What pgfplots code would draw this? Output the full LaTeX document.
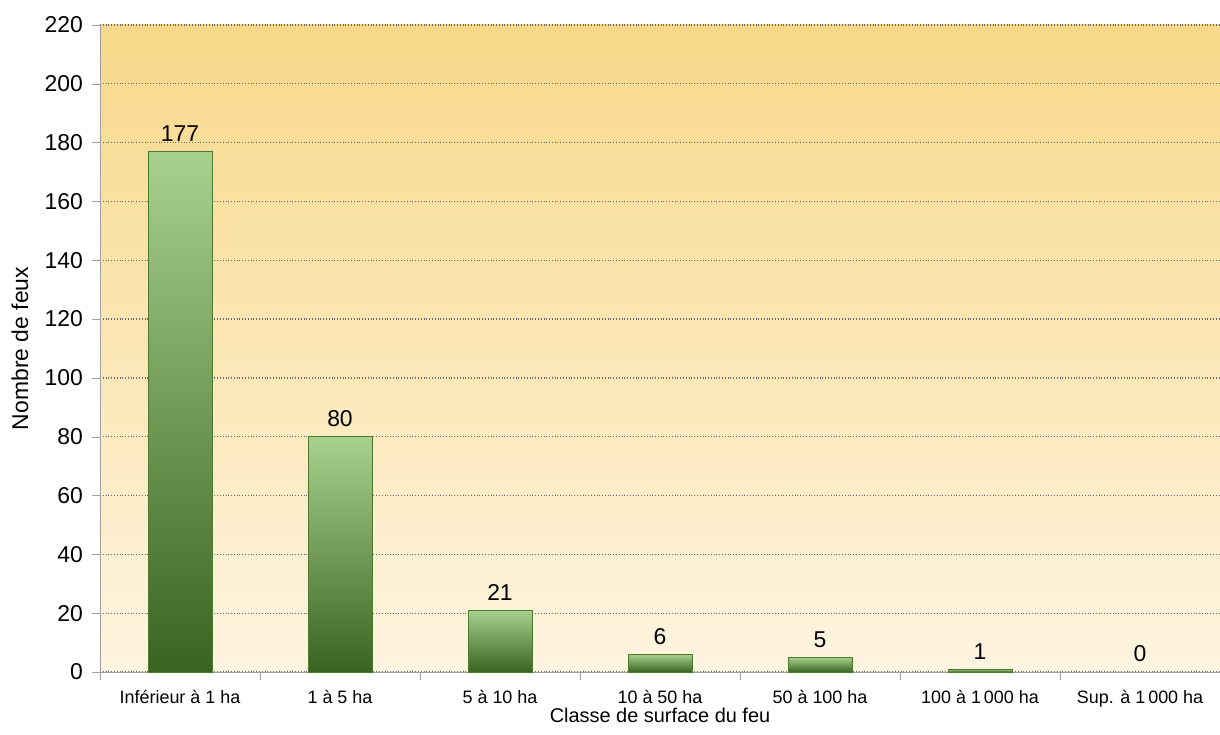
\documentclass[border=0pt]{standalone}
\usepackage{fontspec}
\setmainfont{Liberation Sans}
\usepackage{pgfplots}
\pgfplotsset{compat=1.18}
\definecolor{bgtop}{HTML}{F8D98A}
\definecolor{bgbot}{HTML}{FEF4E0}
\definecolor{bartop}{HTML}{A9D18E}
\definecolor{barbot}{HTML}{3B6320}
\definecolor{baredge}{HTML}{4E7A30}
\begin{document}
\begin{tikzpicture}
\begin{axis}[
  scale only axis, width=560bp, height=323.5bp,
  xmin=-0.5, xmax=6.5, ymin=0, ymax=220,
  ytick={0,20,...,220},
  xtick={0,...,6},
  xticklabels={Inférieur à 1 ha, 1 à 5 ha, 5 à 10 ha, 10 à 50 ha, 50 à 100 ha, 100 à 1\,000 ha, Sup. à 1\,000 ha},
  minor xtick={-0.5,0.5,...,6.5},
  axis x line=bottom, axis y line=left,
  axis line style={draw=gray!75, -},
  tick align=outside,
  major x tick style={draw=none},
  minor x tick style={draw=gray!75},
  minor tick length=4bp,
  major y tick style={draw=gray!75},
  major tick length=4bp,
  ymajorgrids,
  grid style={draw=gray!80!black, densely dotted, line width=0.6pt},
  axis background/.style={top color=bgtop, bottom color=bgbot},
  /pgf/number format/assume math mode=true,
  yticklabel style={font=\fontsize{11.5}{13}\selectfont, xshift=-1bp},
  xticklabel style={font=\fontsize{9}{11}\selectfont, yshift=-1.5bp},
  every axis y label/.style={at={(axis description cs:-0.0714,0.5)}, rotate=90, anchor=center, font=\fontsize{11.5}{13}\selectfont},
  every axis x label/.style={at={(axis description cs:0.5,-0.0665)}, anchor=center, font=\fontsize{10}{12}\selectfont},
  ylabel={Nombre de feux},
  xlabel={Classe de surface du feu},
  nodes near coords,
  every node near coord/.append style={font=\fontsize{11.5}{13}\selectfont, black, yshift=1.5bp},
  clip=false,
  barstyle/.style={ybar, bar width=32bp, bar shift=0pt, draw=baredge, top color=bartop, bottom color=barbot},
]
\addplot[barstyle] coordinates {(0,177)};
\addplot[barstyle] coordinates {(1,80)};
\addplot[barstyle] coordinates {(2,21)};
\addplot[barstyle] coordinates {(3,6)};
\addplot[barstyle] coordinates {(4,5)};
\addplot[barstyle] coordinates {(5,1)};
\addplot[ybar, bar width=32bp, bar shift=0pt, draw=none, fill=none]
  coordinates {(6,0)};
\end{axis}
\pgfresetboundingbox
\path[use as bounding box] (-50bp,-31.5bp) rectangle (560bp,336bp);
\end{tikzpicture}
\end{document}
